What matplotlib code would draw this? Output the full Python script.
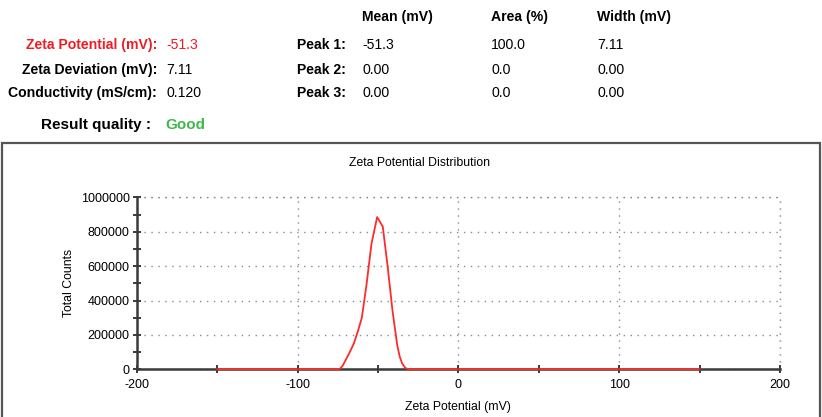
import matplotlib
matplotlib.use("Agg")
import matplotlib.pyplot as plt
from matplotlib.patches import Rectangle
from matplotlib.ticker import MultipleLocator

plt.rcParams['font.family'] = ['Liberation Sans', 'DejaVu Sans']

# ---- data ----
zeta_mv = [-150, -74, -72, -70, -67.5, -65, -62.5, -60, -57, -54, -50.5, -47, -44, -41,
           -38, -36.5, -35, -33, -31, 150]
total_counts = [0, 0, 20000, 55000, 100000, 150000, 220000, 300000, 500000, 730000, 885000,
                830000, 600000, 345000, 140000, 75000, 35000, 8000, 0, 0]

summary_labels = ["Zeta Potential (mV):", "Zeta Deviation (mV):", "Conductivity (mS/cm):"]
summary_values = ["-51.3", "7.11", "0.120"]
peak_labels = ["Peak 1:", "Peak 2:", "Peak 3:"]
peak_columns = ["Mean (mV)", "Area (%)", "Width (mV)"]
peak_mean = ["-51.3", "0.00", "0.00"]
peak_area = ["100.0", "0.0", "0.0"]
peak_width = ["7.11", "0.00", "0.00"]
result_quality = "Good"

x_ticks = [-200, -100, 0, 100, 200]
y_ticks = [0, 200000, 400000, 600000, 800000, 1000000]

W, H = 822, 417
fig = plt.figure(figsize=(W / 100, H / 100), dpi=100)


def px(x, y):
    return x / W, 1 - y / H


RED = '#ee1c24'
GREEN = '#3db84a'
FS = 10.1

# ---- header ----
rows_y = [45, 70, 93]
for i, (lab, val) in enumerate(zip(summary_labels, summary_values)):
    col = RED if i == 0 else 'black'
    fig.text(*px(157, rows_y[i]), lab, ha='right', va='center', fontsize=FS,
             fontweight='bold', color=col)
    fig.text(*px(166, rows_y[i]), val, ha='left', va='center', fontsize=FS, color=col)

col_x = [362, 491, 597]
for cx, name in zip(col_x, peak_columns):
    fig.text(*px(cx, 17), name, ha='left', va='center', fontsize=FS, fontweight='bold')
for i in range(3):
    fig.text(*px(297, rows_y[i]), peak_labels[i], ha='left', va='center', fontsize=FS,
             fontweight='bold')
    for cx, vals in zip(col_x, [peak_mean, peak_area, peak_width]):
        fig.text(*px(cx, rows_y[i]), vals[i], ha='left', va='center', fontsize=FS)

fig.text(*px(151, 125), "Result quality :", ha='right', va='center', fontsize=11,
         fontweight='bold')
fig.text(*px(165, 125), result_quality, ha='left', va='center', fontsize=11,
         fontweight='bold', color=GREEN)

# ---- outer frame ----
fig.patches.append(Rectangle(px(2, 430), (818) / W, (430 - 143) / H,
                             transform=fig.transFigure, fill=False,
                             edgecolor='#555555', linewidth=1.6))

fig.text(*px(419, 163), "Zeta Potential Distribution", ha='center', va='center',
         fontsize=8.8)

# ---- axes ----
left, right, top, bottom = 136.7, 780, 197.3, 369.3
ax = fig.add_axes([left / W, 1 - bottom / H, (right - left) / W, (bottom - top) / H])
ax.set_xlim(-200, 200)
ax.set_ylim(0, 1000000)
ax.set_xticks(x_ticks)
ax.set_yticks(y_ticks)
ax.set_xticklabels([str(t) for t in x_ticks])
ax.set_yticklabels([str(t) for t in y_ticks])
ax.xaxis.set_minor_locator(MultipleLocator(50))
ax.yaxis.set_minor_locator(MultipleLocator(100000))

for s in ['top', 'right']:
    ax.spines[s].set_visible(False)
for s in ['left', 'bottom']:
    ax.spines[s].set_color('#3a3a3a')
    ax.spines[s].set_linewidth(1.8)

ax.tick_params(which='both', direction='inout', length=6, width=1.4, color='#3a3a3a',
               labelsize=9)
ax.tick_params(axis='x', pad=4)
ax.tick_params(axis='y', pad=2)

ax.grid(True, which='major', color='#8a8a8a', linestyle=(0, (1, 4)), linewidth=1.0)
ax.axhline(1000000, color='#8a8a8a', linestyle=(0, (1, 4)), linewidth=1.0, clip_on=False)
ax.axvline(200, color='#8a8a8a', linestyle=(0, (1, 4)), linewidth=1.0, clip_on=False)
ax.set_axisbelow(True)

ax.plot(zeta_mv, total_counts, color='#ff2a2a', linewidth=1.3, clip_on=False, zorder=5)

ax.set_xlabel("Zeta Potential (mV)", fontsize=8.8, labelpad=7)
ax.set_ylabel("Total Counts", fontsize=8.8, labelpad=4)

fig.savefig("out.png", dpi=100)
